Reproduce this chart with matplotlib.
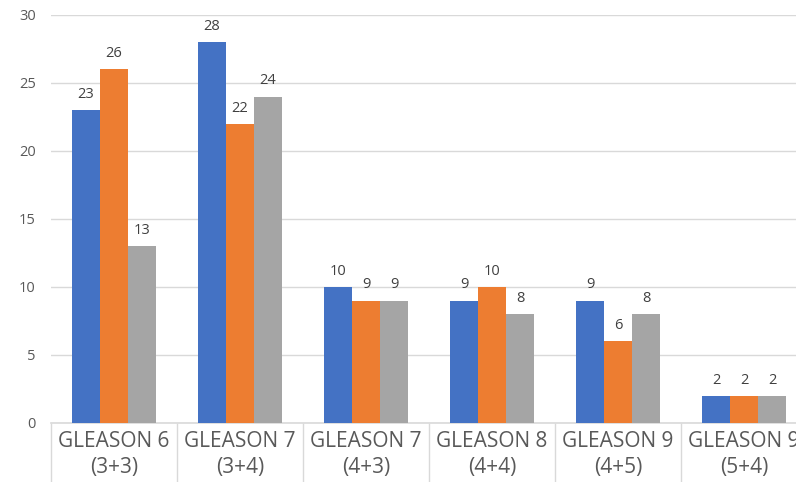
import numpy as np
import matplotlib.pyplot as plt

categories = ["GLEASON 6\n(3+3)", "GLEASON 7\n(3+4)", "GLEASON 7\n(4+3)",
              "GLEASON 8\n(4+4)", "GLEASON 9\n(4+5)", "GLEASON 9\n(5+4)"]
series_1 = [23, 28, 10, 9, 9, 2]
series_2 = [26, 22, 9, 10, 6, 2]
series_3 = [13, 24, 9, 8, 8, 2]
y_ticks = [0, 5, 10, 15, 20, 25, 30]

colors = ["#4472C4", "#ED7D31", "#A5A5A5"]
plt.rcParams['font.family'] = ['Open Sans', 'DejaVu Sans']

fig = plt.figure(figsize=(7.96, 4.82), dpi=100)
# axes area in pixels: left 51, bottom 423 (from top), top 15
ax = fig.add_axes([51 / 796, (482 - 423) / 482, 745 / 796, 408 / 482])

x = np.arange(len(categories))
w = 28 / 126
for i, vals in enumerate([series_1, series_2, series_3]):
    pos = x + (i - 1) * w
    bars = ax.bar(pos, vals, width=w, color=colors[i], zorder=3)
    for b, v in zip(bars, vals):
        ax.text(b.get_x() + b.get_width() / 2, v + 0.6, str(v),
                ha='center', va='bottom', fontsize=10.5, color='#404040')

ax.set_yticks(y_ticks)
ax.yaxis.grid(True, color='#D9D9D9', linewidth=1, zorder=0)
ax.tick_params(axis='y', length=0, labelsize=10.5, labelcolor='#595959', pad=11)

ax.set_xticks(x)
ax.set_xticklabels(categories, fontsize=15, color='#595959', linespacing=1.3)
ax.set_xticks(np.arange(-0.5, len(categories), 1), minor=True)
ax.tick_params(axis='x', which='major', length=0, pad=6)
ax.tick_params(axis='x', which='minor', length=45, color='#D9D9D9', width=1)

# last category runs past the right edge, like the original
ax.set_xlim(-0.5, 745 / 126 - 0.5)
ax.set_ylim(0, 30)

for s in ['top', 'right', 'left']:
    ax.spines[s].set_visible(False)
ax.spines['bottom'].set_color('#D9D9D9')
ax.spines['bottom'].set_linewidth(1.2)

fig.savefig("out.png", dpi=100)
